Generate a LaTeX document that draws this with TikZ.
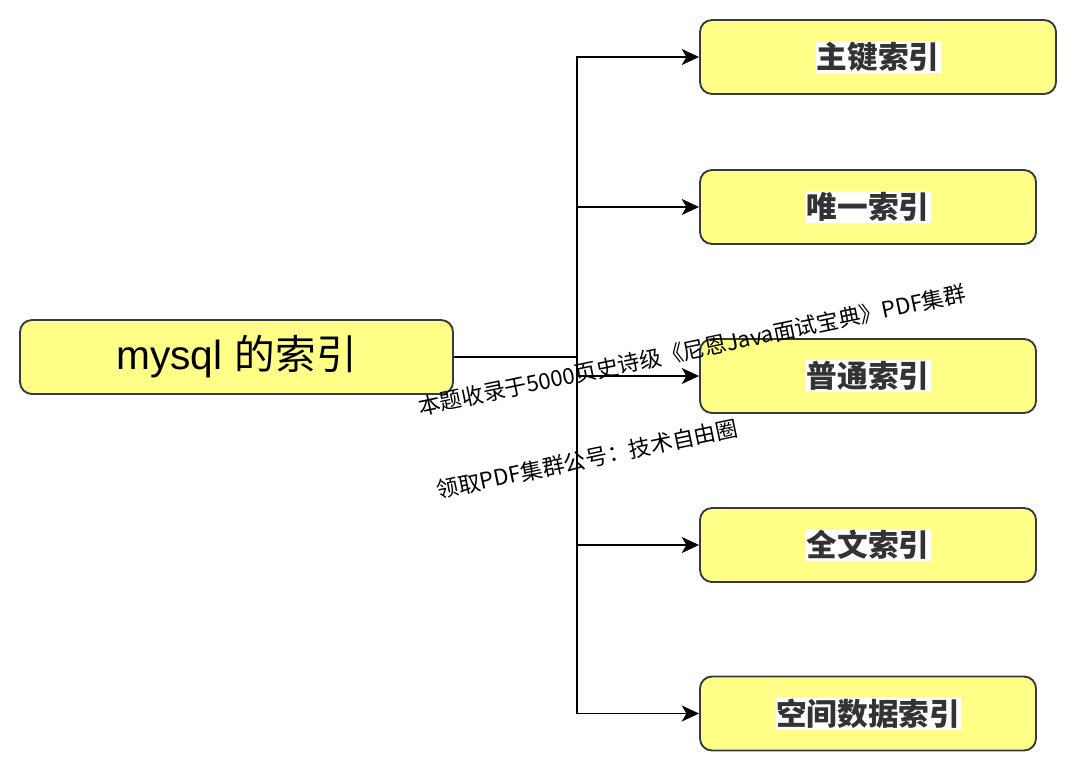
\documentclass[tikz,border=0pt]{standalone}
\usepackage{fontspec}
\usetikzlibrary{arrows.meta}
\newfontfamily\cjk{Noto Sans CJK SC}
\newfontfamily\lib{Liberation Sans}
\definecolor{boxfill}{HTML}{FFFF88}
\definecolor{boxline}{HTML}{36393D}
\definecolor{txtgray}{HTML}{333333}
\tikzset{
  box/.style={draw=boxline, fill=boxfill, line width=1.4pt, rounded corners=9pt, minimum height=55.5pt, inner sep=0pt},
  leaf/.style={box, font=\cjk\bfseries\fontsize{23}{26}\selectfont, text=txtgray},
  conn/.style={line width=1.3pt, -{Stealth[length=13pt,width=12pt,inset=3.5pt]}},
  wm/.style={font=\cjk\fontsize{16.6}{19}\selectfont, rotate=11.8, inner sep=0pt}
}
\newcommand{\hl}[1]{{\setlength{\fboxsep}{1pt}\colorbox{white}{#1}}}
\begin{document}
\begin{tikzpicture}[x=0.75pt, y=-0.75pt]
\useasboundingbox (0,0) rectangle (1080,771);
\fill[white] (0,0) rectangle (1080,771);
\node[box, minimum width=324.75pt, font=\fontsize{30.5}{34}\selectfont] (main) at (236.5,357) {{\lib mysql} {\cjk 的索引}};
\node[leaf, minimum width=267pt] (n1) at (878,57) {\hl{主键索引}};
\node[leaf, minimum width=252pt] (n2) at (868,207) {\hl{唯一索引}};
\node[leaf, minimum width=252pt] (n3) at (868,376) {\hl{普通索引}};
\node[leaf, minimum width=252pt] (n4) at (868,545) {\hl{全文索引}};
\node[leaf, minimum width=252pt] (n5) at (868,713.5) {\hl{空间数据索引}};
\coordinate (spine) at (577,0);
\draw[line width=1.3pt] (main.east) -- (spine |- main.east);
\foreach \n in {n1,n2,n3,n4,n5}{
  \draw[conn] (spine |- main.east) |- (\n.west);
}
\node[wm] (w1) at (692,350) {本题收录于5000页史诗级《尼恩Java面试宝典》PDF集群};
\node[wm] (w2) at (587,459) {领取PDF集群公号：技术自由圈};
\end{tikzpicture}
\end{document}
